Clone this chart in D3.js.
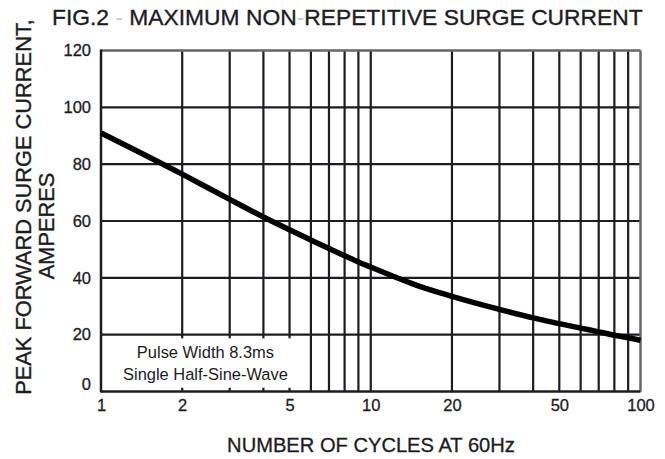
<!DOCTYPE html>
<html><head><meta charset="utf-8">
<script src="https://cdn.jsdelivr.net/npm/d3@7"></script>
<style>html,body{margin:0;padding:0;background:#fff;} svg{display:block;font-family:"Liberation Sans",Arial,sans-serif;}</style>
</head><body><svg id="c" width="665" height="459"></svg>
<script>
// ---- data ----
const cycles = [1, 2, 3, 4, 5, 6, 7, 8, 9, 10, 15, 20, 30, 40, 50, 60, 70, 80, 90, 100];
const amps   = [91, 76.5, 67.6, 61.4, 56.9, 53.3, 50.3, 47.8, 45.6, 43.8, 37.2, 33.5, 28.9, 25.9, 23.9, 22.3, 21.0, 19.8, 18.9, 18.0];
const xTickLabels = [1, 2, 5, 10, 20, 50, 100];
const yTickLabels = [0, 20, 40, 60, 80, 100, 120];
const xGridValues = [2, 3, 4, 5, 6, 7, 8, 9, 10, 20, 30, 40, 50, 60, 70, 80, 90];
const yGridValues = [20, 40, 60, 80, 100];
const titleParts = ["FIG.2 ", "- ", "MAXIMUM NON", "-", "REPETITIVE SURGE CURRENT"];
const noteLines = ["Pulse Width 8.3ms", "Single Half-Sine-Wave"];

// ---- layout ----
const svg = d3.select("#c");
const L = 101, R = 640.5, T = 50.5, B = 391.5;
const x = d3.scaleLog().domain([1, 100]).range([L, R]);
const y = d3.scaleLinear().domain([0, 120]).range([B, T]);
const ink = "#1c1c22";

// grid
svg.append("g").selectAll("line").data(xGridValues).join("line")
  .attr("x1", d => x(d)).attr("x2", d => x(d)).attr("y1", T).attr("y2", B)
  .attr("stroke", ink).attr("stroke-width", 2.2);
svg.append("g").selectAll("line").data(yGridValues).join("line")
  .attr("x1", L).attr("x2", R).attr("y1", d => y(d)).attr("y2", d => y(d))
  .attr("stroke", ink).attr("stroke-width", 2.2);

// note box (white background covering grid)
svg.append("rect")
  .attr("x", x(1) + 1).attr("width", x(5.75) - x(1) - 1)
  .attr("y", y(18.7)).attr("height", y(1.3) - y(18.7))
  .attr("fill", "#fff");

// border
svg.append("line").attr("x1", L).attr("x2", R).attr("y1", T).attr("y2", T).attr("stroke", "#666").attr("stroke-width", 2.5);
svg.append("line").attr("x1", R).attr("x2", R).attr("y1", T).attr("y2", B).attr("stroke", "#666").attr("stroke-width", 2.5);
svg.append("line").attr("x1", L).attr("x2", L).attr("y1", T - 1).attr("y2", B + 1).attr("stroke", ink).attr("stroke-width", 2.5);
svg.append("line").attr("x1", L).attr("x2", R).attr("y1", B).attr("y2", B).attr("stroke", ink).attr("stroke-width", 2.5);

// curve
const line = d3.line().x((d, i) => x(cycles[i])).y(d => y(d)).curve(d3.curveMonotoneX);
svg.append("path").attr("d", line(amps)).attr("fill", "none")
  .attr("stroke", "#000").attr("stroke-width", 5.5).attr("stroke-linecap", "butt");

// axes labels
const xAxis = d3.axisBottom(x).tickValues(xTickLabels).tickSize(0).tickPadding(8).tickFormat(d3.format("d"));
const gx = svg.append("g").attr("transform", `translate(0,${B})`).call(xAxis);
gx.select(".domain").remove();
gx.selectAll("text").attr("font-size", 16.5).attr("fill", ink).attr("stroke", ink).attr("stroke-width", 0.3)
  .attr("font-family", "Liberation Sans, Arial, sans-serif");

const yAxis = d3.axisLeft(y).tickValues(yTickLabels).tickSize(0).tickPadding(10);
const gy = svg.append("g").attr("transform", `translate(${L},0)`).call(yAxis);
gy.select(".domain").remove();
gy.selectAll("text").attr("font-size", 16.5).attr("fill", ink).attr("stroke", ink).attr("stroke-width", 0.3)
  .attr("font-family", "Liberation Sans, Arial, sans-serif")
  .attr("dy", d => d === 0 ? "-0.1em" : "0.32em");

function fit(sel, target) {
  const fs = +sel.attr("font-size");
  const w = sel.node().getComputedTextLength();
  sel.attr("font-size", fs * target / w);
}

// note text
const notes = svg.selectAll("text.note").data(noteLines).join("text").attr("class", "note")
  .attr("x", (x(1) + x(5.75)) / 2 + 2).attr("y", (d, i) => i === 0 ? 358 : 379.5)
  .attr("text-anchor", "middle").attr("font-size", 14.5).attr("fill", ink).text(d => d);
fit(notes.filter((d, i) => i === 1), 165);
notes.filter((d, i) => i === 0).attr("font-size", notes.filter((d, i) => i === 1).attr("font-size"));

// title
const title = svg.append("text").attr("x", 52).attr("y", 25).attr("font-size", 20).attr("fill", ink)
  .attr("stroke", ink).attr("stroke-width", 0.35);
title.selectAll("tspan").data(titleParts).join("tspan")
  .attr("fill", (d, i) => (i === 1 || i === 3) ? "#c8c8c8" : ink)
  .attr("stroke", (d, i) => (i === 1 || i === 3) ? "none" : ink).text(d => d);
fit(title, 591);

// x title
const xt = svg.append("text").attr("x", 371).attr("y", 451.5).attr("text-anchor", "middle")
  .attr("font-size", 18).attr("fill", ink).attr("stroke", ink).attr("stroke-width", 0.3)
  .text("NUMBER OF CYCLES AT 60Hz");
fit(xt, 288);

// y title
const yt1 = svg.append("text").attr("transform", "translate(31,207) rotate(-90)").attr("text-anchor", "middle")
  .attr("font-size", 19).attr("fill", ink).attr("stroke", ink).attr("stroke-width", 0.35)
  .text("PEAK FORWARD SURGE CURRENT,");
fit(yt1, 376);
svg.append("text").attr("transform", "translate(54,226) rotate(-90)").attr("text-anchor", "middle")
  .attr("font-size", yt1.attr("font-size")).attr("fill", ink).attr("stroke", ink).attr("stroke-width", 0.35)
  .text("AMPERES");
</script></body></html>
